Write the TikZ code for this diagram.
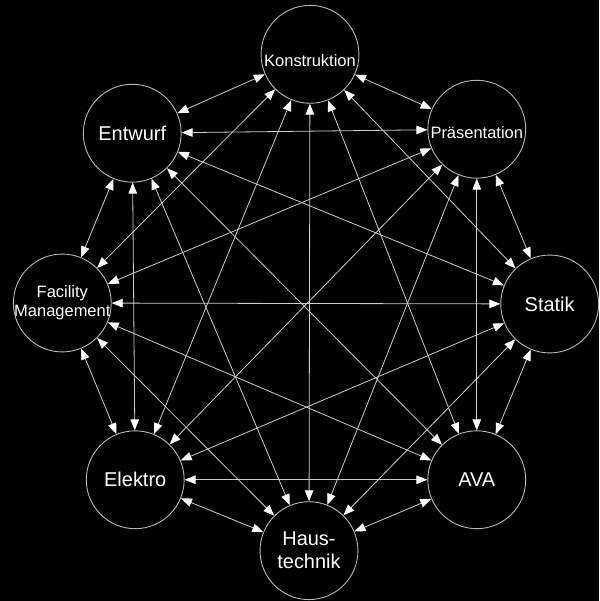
\documentclass[tikz,border=0pt]{standalone}
\usepackage{fontspec}
\setmainfont{Liberation Sans}
\usetikzlibrary{arrows.meta}

\begin{document}
\begin{tikzpicture}[
    x=1pt, y=1pt,
    hub/.style={circle, draw=white!72!black, line width=0.9pt, minimum size=98pt, inner sep=0pt},
    big/.style={text=white, font=\fontsize{20}{23}\selectfont, align=center},
    small/.style={text=white, font=\fontsize{16.5}{19}\selectfont, align=center},
    >={Triangle[length=11pt, width=8.5pt, color=white]},
    every path/.style={draw=white!80!black, line width=0.8pt}
  ]
    \fill[black] (0,0) rectangle (599,601);
    \node[hub, label={[small, yshift=-6pt]center:Konstruktion}] (Ko) at (310,547) {};
    \node[hub, label={[small, yshift=-3pt]center:Präsentation}] (Pr) at (477,472) {};
    \node[hub, label={[big]center:Statik}] (St) at (550,297) {};
    \node[hub, label={[big]center:AVA}] (AVA) at (477,121) {};
    \node[hub, label={[big]center:Haus-\\technik}] (Ha) at (309,50) {};
    \node[hub, label={[big]center:Elektro}] (El) at (135,121) {};
    \node[hub, label={[small]center:Facility\\Management}] (FM) at (62,298) {};
    \node[hub, label={[big]center:Entwurf}] (En) at (132,468) {};
    \draw[<->] (En) -- (Ko);
    \draw[<->] (En) -- (Pr);
    \draw[<->] (En) -- (St);
    \draw[<->] (En) -- (AVA);
    \draw[<->] (En) -- (Ha);
    \draw[<->] (En) -- (El);
    \draw[<->] (En) -- (FM);
    \draw[<->] (Ko) -- (Pr);
    \draw[<->] (Ko) -- (St);
    \draw[<->] (Ko) -- (AVA);
    \draw[<->] (Ko) -- (Ha);
    \draw[<->] (Ko) -- (El);
    \draw[<->] (Ko) -- (FM);
    \draw[<->] (Pr) -- (St);
    \draw[<->] (Pr) -- (AVA);
    \draw[<->] (Pr) -- (Ha);
    \draw[<->] (Pr) -- (El);
    \draw[<->] (Pr) -- (FM);
    \draw[<->] (St) -- (AVA);
    \draw[<->] (St) -- (Ha);
    \draw[<->] (St) -- (El);
    \draw[<->] (St) -- (FM);
    \draw[<->] (AVA) -- (Ha);
    \draw[<->] (AVA) -- (El);
    \draw[<->] (AVA) -- (FM);
    \draw[<->] (Ha) -- (El);
    \draw[<->] (Ha) -- (FM);
    \draw[<->] (El) -- (FM);
  \end{tikzpicture}
\end{document}
